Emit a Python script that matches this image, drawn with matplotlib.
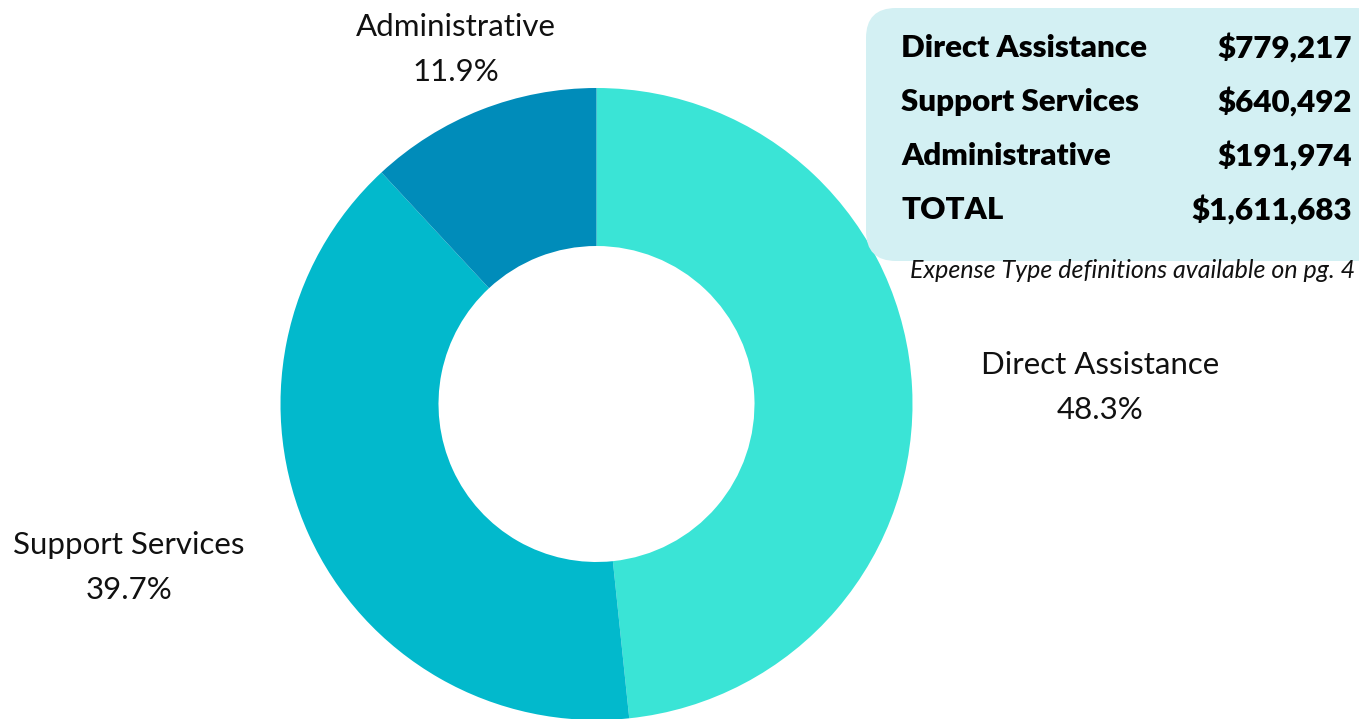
import matplotlib.pyplot as plt
from matplotlib.patches import FancyBboxPatch

# Expense totals by type
categories = ['Direct Assistance', 'Support Services', 'Administrative']
amounts = [779217, 640492, 191974]
total_label = 'TOTAL'
colors = ['#3AE4D6', '#02B9CC', '#008CBA']

total = sum(amounts)
shares = [a / total * 100 for a in amounts]

W, H = 1359, 719
fig = plt.figure(figsize=(W / 100, H / 100), dpi=100)
ax = fig.add_axes([0, 0, 1, 1])

# Donut, clockwise from 12 o'clock
ax.pie(amounts, colors=colors, startangle=90, counterclock=False,
       center=(596.5, H - 404), radius=316, frame=True,
       wedgeprops=dict(width=158, linewidth=0))
ax.set_xlim(0, W)
ax.set_ylim(0, H)
ax.set_aspect('equal')
ax.axis('off')

label_font = dict(family='Lato', fontsize=22.5,
                  color='#111111', ha='center', va='center')
label_pos = {
    'Direct Assistance': (1100, 365),
    'Support Services': (129, 545),
    'Administrative': (456, 27),
}
for cat, pct in zip(categories, shares):
    x, y = label_pos[cat]
    ax.text(x, H - y, cat, **label_font)
    ax.text(x, H - y - 45, f'{pct:.1f}%', **label_font)

# Summary box
box = FancyBboxPatch((866, H - 261), 520, 253,
                     boxstyle='round,pad=0,rounding_size=30',
                     facecolor='#D3F0F3', edgecolor='none')
ax.add_patch(box)

rows = list(zip(categories, amounts)) + [(total_label, total)]
row_y = [48, 102, 156, 210]
for (name, val), y in zip(rows, row_y):
    ax.text(901, H - y, name, family='Lato', fontweight='heavy', fontsize=22.5,
            ha='left', va='center', color='#000000')
    ax.text(1352, H - y, f'${val:,}', family='Lato', fontweight='heavy', fontsize=22.5,
            ha='right', va='center', color='#000000')

ax.text(1355, H - 271, 'Expense Type definitions available on pg. 4',
        family='Lato', style='italic', fontsize=18,
        ha='right', va='center', color='#111111')

fig.savefig('out.png', dpi=100)
